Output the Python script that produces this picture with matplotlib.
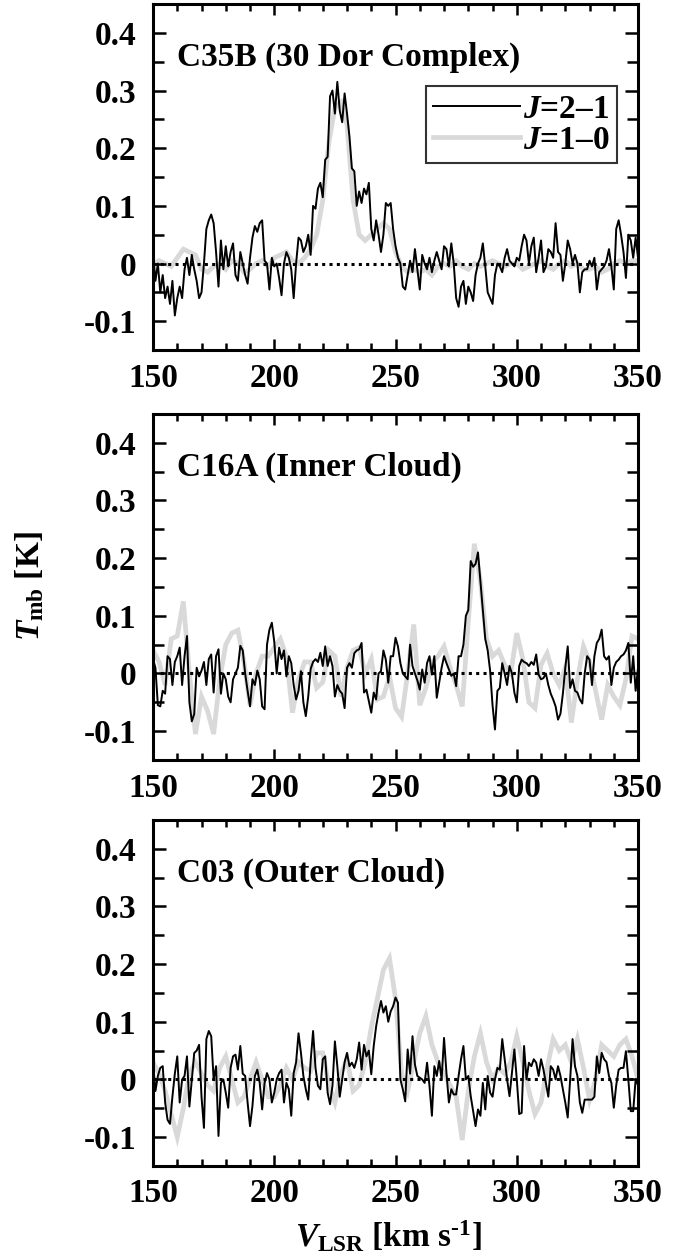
"""
CO J=2-1 vs J=1-0 spectra for three LMC clouds, stacked vertically.
"""

import matplotlib
matplotlib.use("Agg")
import matplotlib.pyplot as plt
import matplotlib.ticker as mticker
import numpy as np

plt.rcParams["font.family"] = ["Liberation Serif", "DejaVu Serif"]
plt.rcParams["font.weight"] = "bold"
plt.rcParams["mathtext.fontset"] = "custom"
plt.rcParams["mathtext.rm"] = "Liberation Serif:bold"
plt.rcParams["mathtext.it"] = "Liberation Serif:bold:italic"
plt.rcParams["mathtext.bf"] = "Liberation Serif:bold"

# velocity grids (km/s): J=2-1 at 1 km/s, J=1-0 at 2.5 km/s
V21 = np.arange(150, 351, 1.0)
V10 = np.arange(150, 350.01, 2.5)

CLOUD_NAMES = ["C35B (30 Dor Complex)", "C16A (Inner Cloud)", "C03 (Outer Cloud)"]
LEGEND_LABELS = ["$J$=2\u20131", "$J$=1\u20130"]
YTICKS = [-0.1, 0.0, 0.1, 0.2, 0.3, 0.4]
YTICK_LABELS = ["-0.1", "0", "0.1", "0.2", "0.3", "0.4"]
XTICKS = [150, 200, 250, 300, 350]

C35B_21 = [
    0.02, -0.03, 0.00, -0.05, -0.02, -0.06, -0.04, -0.07, -0.03, -0.09,      # 150
    -0.06, -0.04, -0.06, -0.01, 0.01, -0.02, 0.015, -0.01, -0.03, -0.06,     # 160
    -0.05, 0.00, 0.06, 0.075, 0.085, 0.07, 0.02, -0.04, 0.04, -0.01,         # 170
    0.03, -0.005, 0.02, 0.035, -0.02, -0.03, 0.02, 0.00, -0.02, -0.035,      # 180
    0.01, 0.045, 0.065, 0.055, 0.07, 0.075, 0.005, 0.00, -0.045, 0.01,       # 190
    -0.005, 0.00, -0.025, -0.055, 0.00, 0.02, 0.01, -0.01, -0.06, 0.00,      # 200
    0.045, 0.04, 0.02, 0.03, 0.05, 0.015, 0.10, 0.095, 0.13, 0.14,           # 210
    0.115, 0.18, 0.185, 0.29, 0.30, 0.26, 0.315, 0.265, 0.245, 0.295,        # 220
    0.26, 0.22, 0.165, 0.16, 0.10, 0.125, 0.105, 0.13, 0.12, 0.14,           # 230
    0.06, 0.04, 0.075, 0.05, 0.02, 0.05, 0.105, 0.10, 0.105, 0.06,           # 240
    0.03, 0.01, 0.00, -0.04, -0.045, -0.02, 0.005, -0.015, 0.025, -0.01,     # 250
    -0.045, 0.015, 0.00, -0.01, 0.01, -0.015, 0.005, 0.02, 0.005, -0.01,     # 260
    0.03, 0.025, -0.005, 0.035, 0.00, -0.06, -0.075, -0.04, -0.03, -0.07,    # 270
    -0.04, -0.05, -0.065, -0.02, 0.00, 0.01, 0.035, -0.005, -0.05, -0.06,    # 280
    -0.07, -0.02, 0.00, -0.005, -0.015, 0.01, 0.025, 0.005, 0.00, -0.005,    # 290
    0.01, 0.005, 0.03, 0.05, 0.04, 0.00, 0.03, 0.045, -0.015, 0.01,          # 300
    0.04, -0.015, -0.005, 0.025, 0.02, 0.01, 0.07, 0.02, 0.015, -0.03,       # 310
    0.00, 0.04, 0.025, 0.00, 0.015, 0.00, -0.05, -0.015, -0.01, -0.01,       # 320
    0.005, -0.005, 0.01, -0.045, -0.015, -0.01, -0.005, 0.005, 0.025, -0.005,  # 330
    -0.045, 0.06, 0.075, 0.05, 0.02, -0.025, 0.05, 0.04, 0.01, 0.045,        # 340
    0.01,
]
C35B_10 = [
    0.00, 0.005, 0.00, -0.005, 0.01, 0.025, 0.02, 0.015, -0.01, -0.015,
    -0.005, 0.00, -0.01, 0.005, 0.00, -0.015, -0.01, 0.00, 0.005, -0.005,
    0.01, 0.015, 0.02, 0.005, 0.00, 0.01, 0.025, 0.05, 0.11, 0.21,
    0.27, 0.28, 0.24, 0.11, 0.05, 0.04, 0.05, 0.06, 0.07, 0.06,
    0.02, -0.005, -0.015, -0.01, -0.015, -0.01, -0.02, -0.005, 0.00, -0.005,
    0.005, -0.005, -0.01, 0.00, -0.005, 0.00, 0.005, 0.00, -0.005, 0.00,
    0.00, -0.01, -0.005, 0.00, 0.005, -0.005, -0.01, 0.00, 0.005, -0.005,
    0.00, -0.01, -0.01, -0.005, -0.015, -0.01, 0.00, 0.005, 0.00, 0.005,
    0.005,
]

C16A_21 = [
    0.025, 0.01, -0.055, -0.057, -0.03, -0.035, 0.03, 0.025, -0.02, 0.02,
    0.03, 0.045, -0.02, 0.03, 0.065, -0.05, -0.083, -0.07, 0.01, -0.005,
    0.005, 0.02, -0.02, 0.025, 0.033, -0.033, 0.03, 0.042, -0.035, 0.00,
    -0.01, -0.04, -0.05, -0.01, 0.00, 0.01, 0.048, 0.04, 0.00, -0.03,
    -0.057, -0.01, -0.02, 0.005, -0.01, -0.057, -0.062, 0.05, 0.076, 0.088,
    0.055, 0.00, 0.045, 0.025, 0.04, -0.005, 0.03, 0.018, -0.02, -0.045,
    -0.03, 0.004, -0.05, -0.074, -0.04, 0.008, 0.02, 0.025, 0.02, 0.036,
    0.013, 0.047, 0.013, 0.03, 0.013, -0.04, -0.02, -0.03, -0.035, -0.06,
    0.01, 0.018, 0.01, 0.035, 0.04, 0.042, 0.053, -0.033, -0.028, -0.048,
    -0.068, -0.033, -0.045, 0.00, 0.004, 0.04, 0.024, -0.016, 0.03, 0.03,
    0.062, 0.047, 0.018, 0.00, -0.005, -0.01, 0.05, 0.013, 0.00, -0.012,
    -0.028, 0.007, -0.016, 0.018, 0.03, -0.002, 0.03, -0.042, -0.016, 0.01,
    0.03, 0.018, 0.007, -0.004, 0.00, -0.022, 0.03, 0.03, 0.05, 0.10,
    0.11, 0.195, 0.185, 0.19, 0.21, 0.16, 0.11, 0.06, 0.04, 0.005,
    -0.055, -0.097, -0.03, -0.025, 0.018, 0.00, -0.02, 0.013, 0.00, -0.033,
    -0.05, 0.013, 0.024, 0.02, 0.018, 0.013, 0.02, 0.015, 0.033, -0.002,
    -0.01, -0.008, 0.00, -0.02, -0.035, -0.045, -0.057, -0.08, -0.07, -0.035,
    0.01, 0.047, -0.025, -0.01, -0.03, -0.033, -0.045, -0.052, 0.00, 0.03,
    0.024, -0.02, 0.03, 0.053, 0.06, 0.076, 0.03, 0.024, 0.03, -0.02,
    0.01, 0.02, 0.024, 0.03, 0.033, 0.04, 0.053, -0.016, 0.03, -0.03,
    0.01,
]
C16A_10 = [
    0.04, 0.02, -0.02, 0.06, 0.065, 0.125, 0.00, -0.105, -0.04, -0.065,
    -0.105, -0.01, 0.05, 0.07, 0.075, 0.02, -0.055, 0.00, 0.03, 0.03,
    0.045, 0.06, 0.03, -0.068, -0.01, 0.02, 0.02, -0.025, -0.015, 0.04,
    0.03, -0.04, 0.01, 0.04, 0.045, 0.00, 0.025, -0.045, -0.04, -0.005,
    -0.06, -0.075, 0.00, 0.085, -0.055, -0.025, 0.02, 0.03, 0.047, 0.01,
    -0.02, -0.057, 0.09, 0.225, 0.16, 0.06, 0.03, 0.04, 0.015, 0.00,
    0.07, 0.025, -0.05, -0.06, 0.015, 0.035, 0.00, -0.02, 0.01, -0.085,
    -0.01, 0.047, 0.02, -0.03, -0.08, -0.02, -0.04, -0.055, -0.01, 0.065,
    0.06,
]

C03_21 = [
    0.029, -0.02, 0.006, 0.02, 0.023, -0.04, -0.07, -0.077, -0.03, 0.01,
    0.04, -0.04, 0.00, 0.006, 0.04, -0.047, 0.00, 0.046, 0.05, 0.06,
    -0.03, -0.084, 0.07, 0.084, 0.075, 0.00, 0.023, -0.098, -0.006, 0.00,
    -0.023, -0.049, 0.02, 0.04, 0.043, 0.017, 0.058, 0.01, 0.006, -0.04,
    -0.081, -0.046, 0.006, 0.017, -0.006, -0.052, -0.006, 0.011, 0.00, -0.04,
    -0.023, 0.00, 0.011, 0.017, -0.04, -0.006, -0.017, -0.063, 0.011, 0.03,
    0.08, 0.046, 0.006, -0.017, -0.035, 0.032, 0.084, 0.02, -0.011, -0.017,
    0.035, 0.04, -0.023, -0.043, -0.011, 0.066, 0.023, -0.03, 0.00, 0.03,
    0.046, 0.023, 0.029, 0.02, 0.035, 0.064, 0.017, 0.06, 0.04, 0.05,
    0.009, 0.058, 0.092, 0.116, 0.136, 0.116, 0.127, 0.10, 0.118, 0.127,
    0.142, 0.133, 0.00, -0.017, -0.038, 0.052, 0.01, 0.075, 0.026, 0.006,
    0.003, 0.00, -0.006, 0.029, -0.011, -0.063, 0.023, 0.006, 0.032, 0.00,
    0.072, 0.011, -0.04, -0.017, -0.026, -0.026, 0.006, 0.035, 0.058, 0.00,
    0.006, -0.029, -0.055, -0.081, -0.052, -0.063, -0.006, -0.052, 0.006, -0.023,
    -0.03, 0.00, 0.02, 0.017, 0.07, 0.035, 0.00, -0.029, 0.011, 0.052,
    0.00, -0.06, -0.058, 0.058, 0.00, 0.029, 0.023, 0.035, 0.029, 0.006,
    0.035, 0.017, -0.006, -0.03, 0.023, 0.017, 0.00, 0.023, 0.006, -0.017,
    -0.04, -0.066, 0.00, 0.07, 0.023, 0.006, -0.04, -0.058, -0.035, -0.035,
    -0.035, -0.035, -0.03, 0.04, 0.011, 0.046, 0.035, 0.03, 0.006, -0.006,
    -0.049, -0.01, 0.017, 0.02, 0.02, 0.049, 0.00, -0.055, -0.055, 0.00,
    -0.01,
]
C03_10 = [
    0.03, 0.01, -0.02, -0.06, -0.10, -0.05, 0.01, 0.03, 0.01, -0.01,
    -0.02, 0.02, 0.04, 0.00, -0.04, -0.03, 0.00, 0.03, 0.00, -0.03,
    -0.03, -0.01, 0.02, 0.00, 0.03, 0.02, 0.015, 0.046, 0.046, -0.01,
    -0.04, 0.01, 0.035, -0.02, -0.01, 0.03, 0.09, 0.14, 0.19, 0.21,
    0.14, 0.01, -0.02, 0.03, 0.08, 0.11, 0.06, 0.03, 0.01, -0.01,
    -0.03, -0.105, -0.02, 0.04, 0.08, 0.03, 0.00, 0.02, 0.01, 0.03,
    0.075, 0.03, -0.02, -0.06, -0.04, 0.02, 0.07, 0.05, 0.06, 0.03,
    0.07, 0.02, -0.035, 0.00, 0.06, 0.05, 0.04, 0.06, 0.07, 0.04,
    0.00,
]

SPEC_21 = [C35B_21, C16A_21, C03_21]
SPEC_10 = [C35B_10, C16A_10, C03_10]

FS = 24
GREY = "#d9d9d9"


def style_axis(ax):
    ax.set_xlim(150, 350)
    ax.set_ylim(-0.15, 0.45)
    ax.set_xticks(XTICKS)
    ax.set_xticklabels([str(t) for t in XTICKS])
    ax.xaxis.set_minor_locator(mticker.MultipleLocator(10))
    ax.set_yticks(YTICKS)
    ax.set_yticklabels(YTICK_LABELS)
    ax.yaxis.set_minor_locator(mticker.MultipleLocator(0.05))
    ax.tick_params(which="both", direction="in", top=True, right=True, width=1.8)
    ax.tick_params(axis="x", which="major", length=8, pad=9, labelsize=FS)
    ax.tick_params(axis="x", which="minor", length=5)
    ax.tick_params(axis="y", which="major", length=9.5, pad=12, labelsize=FS)
    ax.tick_params(axis="y", which="minor", length=8)
    for sp in ax.spines.values():
        sp.set_linewidth(2.2)


fig = plt.figure(figsize=(6.88, 12.56), dpi=100)
bottoms = [0.7213, 0.3949, 0.0717]

for i in range(3):
    ax = fig.add_axes([0.2224, bottoms[i], 0.705, 0.2755])
    l10, = ax.plot(V10, SPEC_10[i], color=GREY, lw=3.4, solid_joinstyle="miter", zorder=1)
    ax.axhline(0, color="black", lw=2.2, ls=(0, (1, 1.4)), zorder=2)
    l21, = ax.plot(V21, SPEC_21[i], color="black", lw=1.4, zorder=3)
    style_axis(ax)
    ax.text(0.05, 0.845, CLOUD_NAMES[i], transform=ax.transAxes,
            fontsize=FS, fontweight="bold", ha="left", va="center")
    if i == 0:
        leg = ax.legend([l21, l10], LEGEND_LABELS, loc="upper right",
                        bbox_to_anchor=(0.957, 0.762), fontsize=FS,
                        frameon=True, fancybox=False, edgecolor="black",
                        handlelength=2.6, handletextpad=0.1, labelspacing=0.0,
                        borderpad=0.22, borderaxespad=0.0)
        leg.get_frame().set_linewidth(1.5)

fig.text(30 / 688, 0.533, r"$T_{\rm mb}$ [K]", rotation=90, fontsize=FS,
         ha="center", va="center")
fig.text(388 / 688, 0.0072, r"$V_{\rm LSR}$ [km s$^{\text{-1}}$]", fontsize=FS,
         ha="center", va="baseline")

fig.savefig("out.png", dpi=100)
